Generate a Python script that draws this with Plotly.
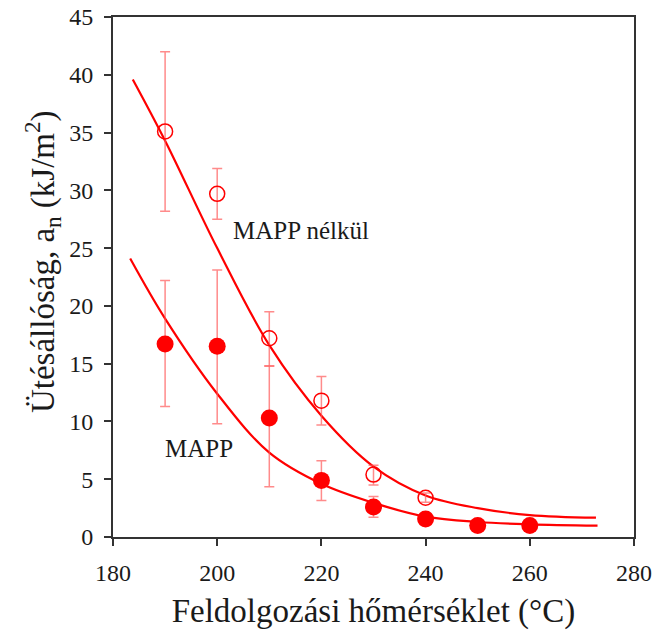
import plotly.graph_objects as go

# Data
# MAPP nélkül (open circles)
t_open = [190, 200, 210, 220, 230, 240]
y_open = [35.1, 29.7, 17.2, 11.8, 5.4, 3.4]
err_open_plus = [6.9, 2.2, 2.3, 2.1, 0.8, 0.4]
err_open_minus = [6.9, 2.2, 2.4, 2.1, 0.9, 0.4]

# MAPP (filled circles)
t_fill = [190, 200, 210, 220, 230, 240, 250, 260]
y_fill = [16.7, 16.5, 10.3, 4.9, 2.6, 1.55, 1.0, 1.0]
err_fill_plus = [5.5, 6.6, 4.5, 1.7, 0.9, 0.5, 0.2, 0.2]
err_fill_minus = [5.4, 6.7, 5.95, 1.75, 0.9, 0.5, 0.2, 0.2]

# Fitted curves
fit_x_open = [183.8, 190, 200, 210, 220, 230, 240, 250, 260, 272.7]
fit_y_open = [39.6, 34.3, 25.0, 16.6, 10.5, 6.1, 3.6, 2.5, 1.9, 1.67]
fit_x_fill = [183.3, 190, 200, 210, 220, 230, 240, 250, 260, 273]
fit_y_fill = [24.1, 18.9, 12.4, 7.3, 4.6, 2.95, 1.76, 1.3, 1.1, 0.98]

x_ticks = [180, 200, 220, 240, 260, 280]
y_ticks = [0, 5, 10, 15, 20, 25, 30, 35, 40, 45]

x_title = "Feldolgozási hőmérséklet (°C)"
y_title = "Ütésállóság, a<sub>n</sub> (kJ/m<sup>2</sup>)"

RED = "#ff0000"
ERR = "rgba(255,90,90,0.7)"
FONT = "Liberation Serif, Times New Roman, serif"
TXT = "#1a1a1a"

fig = go.Figure()

fig.add_trace(go.Scatter(x=fit_x_open, y=fit_y_open, mode="lines",
                         line=dict(color=RED, width=2.2, shape="spline", smoothing=1.0),
                         showlegend=False, hoverinfo="skip"))
fig.add_trace(go.Scatter(x=fit_x_fill, y=fit_y_fill, mode="lines",
                         line=dict(color=RED, width=2.2, shape="spline", smoothing=1.0),
                         showlegend=False, hoverinfo="skip"))

fig.add_trace(go.Scatter(x=t_open, y=y_open, mode="markers",
                         marker=dict(symbol="circle-open", size=15, color=RED,
                                     line=dict(width=1.5, color=RED)),
                         error_y=dict(type="data", symmetric=False, array=err_open_plus,
                                      arrayminus=err_open_minus, color=ERR,
                                      thickness=1.5, width=5),
                         showlegend=False))
fig.add_trace(go.Scatter(x=t_fill, y=y_fill, mode="markers",
                         marker=dict(symbol="circle", size=17, color=RED,
                                     line=dict(width=0)),
                         error_y=dict(type="data", symmetric=False, array=err_fill_plus,
                                      arrayminus=err_fill_minus, color=ERR,
                                      thickness=1.5, width=5),
                         showlegend=False))

fig.add_annotation(x=216.1, y=26.5, text="MAPP nélkül", showarrow=False,
                   xanchor="center", yanchor="middle",
                   font=dict(family=FONT, size=25, color=TXT))
fig.add_annotation(x=196.5, y=7.7, text="MAPP", showarrow=False,
                   xanchor="center", yanchor="middle",
                   font=dict(family=FONT, size=25, color=TXT))

# y-axis title placed as a rotated annotation for exact placement
fig.add_annotation(xref="paper", yref="paper", x=-0.135, y=0.53, text=y_title,
                   textangle=-90, showarrow=False, xanchor="center", yanchor="middle",
                   font=dict(family=FONT, size=33, color=TXT))

axis_common = dict(showline=True, linecolor="#333", linewidth=2, mirror=True,
                   ticks="outside", ticklen=7, tickwidth=2, tickcolor="#333",
                   showgrid=False, zeroline=False, automargin=False,
                   ticklabeloverflow="allow",
                   tickfont=dict(family=FONT, size=24, color=TXT))

fig.update_xaxes(range=[180, 280], tickvals=x_ticks, ticklabelstandoff=6,
                 title=dict(text=x_title,
                            font=dict(family=FONT, size=33, color=TXT), standoff=14),
                 **axis_common)
fig.update_yaxes(range=[0, 45], tickvals=y_ticks, ticklabelstandoff=6,
                 **axis_common)

fig.update_layout(width=654, height=632, paper_bgcolor="white", plot_bgcolor="white",
                  margin=dict(l=113, r=20, t=17, b=95))

fig.write_html("out.html", config={"displayModeBar": False},
               post_script="document.body.style.margin='0';document.body.style.padding='0';")
